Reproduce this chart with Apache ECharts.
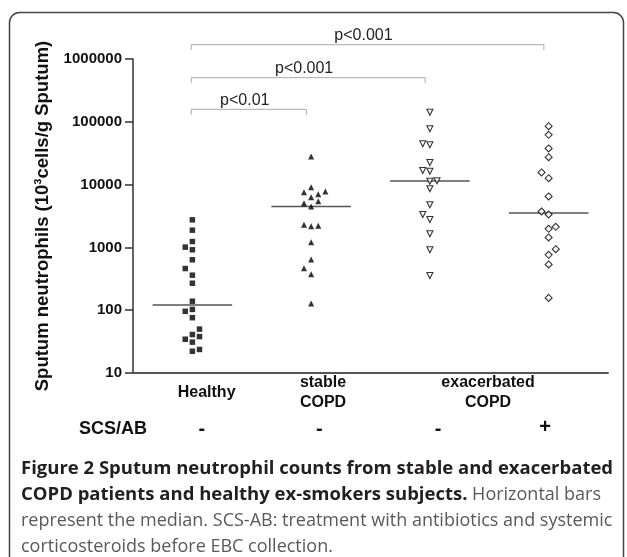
<!DOCTYPE html>
<html>
<head>
<meta charset="utf-8">
<script src="https://cdn.jsdelivr.net/npm/echarts@6.0.0/dist/echarts.min.js"></script>
<style>
html, body { margin: 0; padding: 0; background: #fff; }
#chart { width: 627px; height: 557px; }
</style>
</head>
<body>
<div id="chart"></div>
<script>
// sputum neutrophils, 10^3 cells/g, one array per group
var healthy    = [2750, 1880, 1240, 1010, 916, 635, 461, 361, 269, 139, 103, 96, 76, 50, 41, 38, 34.5, 31, 23.7, 22.2];
var healthyCol = [0, 0, 0, -1, 0, 0, -1, 0, 0, 0, 0, -1, 0, 1, 0, 1, -1, 0, 1, 0];

var stable    = [28000, 9100, 7570, 7030, 7770, 6300, 5050, 5440, 4480, 2290, 2180, 2210, 1210, 641, 467, 374, 128];
var stableCol = [0, 0, -1, 1, 2, 0, -1, 1, 0, -1, 0, 1, 0, 0, -1, 0, 0];

var exacNo    = [142000, 77400, 44700, 43100, 22500, 16800, 16300, 11300, 11500, 8580, 4770, 3340, 2780, 1650, 916, 357];
var exacNoCol = [0, 0, -1, 0, 0, -1, 0, 0, 1, 0, 0, -1, 0, 0, 0, 0];

var exacYes    = [85100, 62100, 37600, 27300, 15600, 12650, 6470, 3730, 3340, 1980, 2130, 1440, 935, 762, 535, 157];
var exacYesCol = [0, 0, 0, 0, -1, 0, 0, -1, 0, 0, 1, 0, 1, 0, 0, 0];

var yTicks = [10, 100, 1000, 10000, 100000, 1000000];
var xLabels = ['Healthy', 'stable\nCOPD', 'exacerbated\nCOPD'];
var xLabelAt = [1.12, 2.1, 3.49];
var treatment = ['-', '-', '-', '+'];
var treatmentAt = [1.08, 2.07, 3.07, 3.97];
var pLabels = ['p<0.01', 'p<0.001', 'p<0.001'];
var pPairs = [[1, 2], [1, 3], [1, 4]];
var pLevel = [158000, 504000, 1690000];

var colStep = 0.06;

function points(vals, cols, g) {
    return vals.map(function (v, i) { return [g + cols[i] * colStep, v]; });
}

function median(a) {
    var s = a.slice().sort(function (x, y) { return x - y; });
    var m = Math.floor(s.length / 2);
    return s.length % 2 ? s[m] : (s[m - 1] + s[m]) / 2;
}

function medianLine(vals, g) {
    var m = median(vals);
    return {
        type: 'line',
        data: [[g - 0.335, m], [g + 0.335, m]],
        symbol: 'none',
        silent: true,
        lineStyle: { color: '#555', width: 1.5 },
        z: 1
    };
}

function bracket(pair, lvl) {
    var a = pair[0] - 0.01, b = pair[1] - 0.04, low = lvl / 1.22;
    return {
        type: 'line',
        data: [[a, low], [a, lvl], [b, lvl], [b, low]],
        symbol: 'none',
        silent: true,
        clip: false,
        lineStyle: { color: '#aaa', width: 1 }
    };
}

function dots(data, symbol, rotate, size, filled) {
    return {
        type: 'scatter',
        data: data,
        symbol: symbol,
        symbolRotate: rotate,
        symbolSize: size,
        itemStyle: filled
            ? { color: '#000' }
            : { color: '#fff', borderColor: '#000', borderWidth: 1.1 },
        z: 3
    };
}

var series = [
    dots(points(healthy, healthyCol, 1), 'rect', 0, 5.5, true),
    dots(points(stable, stableCol, 2), 'triangle', 0, 6, true),
    dots(points(exacNo, exacNoCol, 3), 'triangle', 180, 6, false),
    dots(points(exacYes, exacYesCol, 4), 'diamond', 0, 7, false),
    medianLine(healthy, 1),
    medianLine(stable, 2),
    medianLine(exacNo, 3),
    medianLine(exacYes, 4)
];
pPairs.forEach(function (p, i) { series.push(bracket(p, pLevel[i])); });

var myChart = echarts.init(document.getElementById('chart'));

myChart.setOption({
    animation: false,
    backgroundColor: '#fff',
    grid: { left: 133, right: 19, top: 59, bottom: 184 },
    xAxis: {
        type: 'value',
        min: 0.5,
        max: 4.5,
        splitLine: { show: false },
        axisTick: { show: false },
        axisLabel: { show: false },
        axisLine: { lineStyle: { color: '#555', width: 2 } }
    },
    yAxis: {
        type: 'log',
        logBase: 10,
        min: yTicks[0],
        max: yTicks[yTicks.length - 1],
        name: 'Sputum neutrophils (10³cells/g Sputum)',
        nameLocation: 'middle',
        nameGap: 81,
        nameTextStyle: { fontFamily: 'Arial', fontWeight: 'bold', fontSize: 18.5, color: '#111' },
        splitLine: { show: false },
        minorTick: { show: false },
        axisLine: { show: true, lineStyle: { color: '#333', width: 1.5 } },
        axisTick: { show: true, length: 8, lineStyle: { color: '#333', width: 1.5 } },
        axisLabel: {
            margin: 11,
            fontFamily: 'Arial',
            fontWeight: 'bold',
            fontSize: 15,
            color: '#111',
            formatter: function (v) { return String(Math.round(v)); }
        }
    },
    series: series
});

function px(x, y) { return myChart.convertToPixel({ gridIndex: 0 }, [x, y]); }

var graphics = [
    {
        type: 'rect',
        shape: { x: 9.5, y: 12.5, width: 614, height: 620, r: 10 },
        style: { fill: 'none', stroke: '#444', lineWidth: 1.5 },
        z: -1
    }
];

xLabels.forEach(function (t, i) {
    var p = px(xLabelAt[i], yTicks[0]);
    graphics.push({
        type: 'text', x: p[0], y: p[1] + 20,
        style: {
            text: t, fill: '#111', font: 'bold 16px Arial',
            align: 'center', verticalAlign: 'middle', lineHeight: 20
        }
    });
});

var rowY = px(1, yTicks[0])[1] + 56;
graphics.push({
    type: 'text', x: 113, y: rowY,
    style: { text: 'SCS/AB', fill: '#111', font: 'bold 18px Arial', align: 'center', verticalAlign: 'middle' }
});
treatment.forEach(function (t, i) {
    var p = px(treatmentAt[i], yTicks[0]);
    graphics.push({
        type: 'text', x: p[0], y: rowY - (t === '+' ? 2 : 0),
        style: { text: t, fill: '#111', font: 'bold 20px Arial', align: 'center', verticalAlign: 'middle' }
    });
});

pPairs.forEach(function (pair, i) {
    var a = px(pair[0], pLevel[i]), b = px(pair[1], pLevel[i]);
    graphics.push({
        type: 'text', x: (a[0] + b[0]) / 2 - 7, y: a[1] - 9,
        style: { text: pLabels[i], fill: '#222', font: '16px Arial', align: 'center', verticalAlign: 'middle' }
    });
});

graphics.push({
    type: 'text', left: 21, top: 459,
    style: {
        text: '{b|Figure 2 Sputum neutrophil counts from stable and exacerbated}\n' +
              '{b|COPD patients and healthy ex-smokers subjects.}{r| Horizontal bars}\n' +
              '{r|represent the median. SCS-AB: treatment with antibiotics and systemic}\n' +
              '{r|corticosteroids before EBC collection.}',
        rich: {
            b: { fontFamily: 'Open Sans', fontWeight: 'bold', fontSize: 18.5, fill: '#231f20', lineHeight: 26 },
            r: { fontFamily: 'Open Sans', fontSize: 18, fill: '#58595b', lineHeight: 26 }
        }
    }
});

myChart.setOption({ graphic: graphics });
</script>
</body>
</html>
